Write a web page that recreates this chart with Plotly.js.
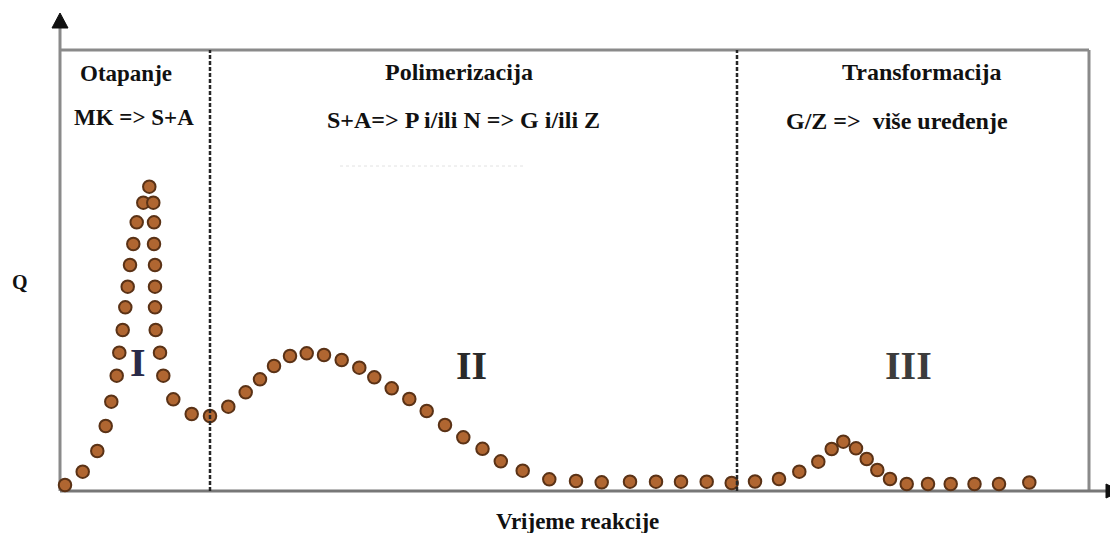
<!DOCTYPE html>
<html>
<head>
<meta charset="utf-8">
<script src="https://cdn.plot.ly/plotly-3.0.1.min.js"></script>
<style>
html,body{margin:0;padding:0;background:#fff;}
#chart{width:1110px;height:533px;}
</style>
</head>
<body>
<div id="chart"></div>
<script>
// Reaction time (arbitrary units) and heat flow Q (arbitrary units)
var timeStage1 = [5, 22.7, 37.3, 45.7, 51.3, 56.7, 59.3, 62.7, 65.3, 67.7, 70, 73.3, 76.7, 83.3, 89.3,
                  93.3, 94, 94, 95, 95, 95, 95.7, 100, 103.3, 113.3, 131.7, 150];
var qStage1    = [6, 19.3, 40, 65, 89.3, 115.3, 138.3, 161, 183.7, 204.3, 226, 247, 268.7, 288.3, 304.3,
                  288.3, 268.7, 247, 226, 204.3, 183.7, 161, 138.3, 115.3, 91.7, 77, 75];

var timeStage2 = [168.3, 185.7, 200, 214, 230, 246.7, 264, 281.7, 299.3, 314.3, 331.7, 349.3, 366.7,
                  385, 403.3, 422.5, 440.8, 462.7, 489.3, 516, 541.7, 570, 596, 621, 646.7, 671.7];
var qStage2    = [84.3, 98.7, 111.7, 125, 135, 137.7, 136, 131, 123.3, 113.7, 102.7, 92, 80,
                  66, 53.7, 42.2, 29.7, 20.3, 11.7, 10, 8.7, 9.3, 9.3, 9.3, 9.3, 8];

var timeStage3 = [695, 719, 739.3, 758.3, 771.7, 783.3, 796, 806.7, 817.3, 830, 846.7, 868, 890.7, 914.5, 939, 969.3];
var qStage3    = [9.5, 12, 19.3, 29.3, 42, 49.3, 42.7, 32, 21, 12, 7, 7, 7, 7, 7, 8.5];

var stageBounds = [150, 677];   // stage boundaries on the time axis
var timeRange = [0, 1029];
var qRange = [0, 441];

var stageNames = ['Otapanje', 'Polimerizacija', 'Transformacija'];
var stageReactions = ['MK => S+A', 'S+A=> P i/ili N => G i/ili Z', 'G/Z =>\u00a0\u00a0više uređenje'];
var stageNumerals = ['I', 'II', 'III'];
var xTitle = 'Vrijeme reakcije';
var yTitle = 'Q';

var timeAll = timeStage1.concat(timeStage2, timeStage3);
var qAll = qStage1.concat(qStage2, qStage3);

var serif = "'Liberation Serif', 'Times New Roman', serif";

var trace = {
  x: timeAll, y: qAll, type: 'scatter', mode: 'markers',
  marker: {size: 12.5, color: '#b06631', line: {color: '#5a3216', width: 2}},
  hoverinfo: 'skip', cliponaxis: false
};

var axisGray = '#8a8a8a';
var W = 1029, H = 441;
function px(p){ return (p - 60) / W; }
function py(p){ return (491 - p) / H; }

var shapes = [
  // frame
  {type:'line', xref:'paper', yref:'paper', x0:0, x1:1, y0:1, y1:1, line:{color:axisGray, width:3}, layer:'below'},
  {type:'line', xref:'paper', yref:'paper', x0:1, x1:1, y0:0, y1:1, line:{color:axisGray, width:3}, layer:'below'},
  // y axis with arrow
  {type:'line', xref:'paper', yref:'paper', x0:0, x1:0, y0:0, y1:py(27), line:{color:axisGray, width:3}, layer:'below'},
  {type:'path', xref:'paper', yref:'paper',
   path:'M '+px(52)+' '+py(28)+' L '+px(60)+' '+py(13)+' L '+px(68)+' '+py(28)+' Z',
   fillcolor:'#111', line:{color:'#111', width:1}},
  // x axis with arrow
  {type:'line', xref:'paper', yref:'paper', x0:0, x1:px(1106), y0:0, y1:0, line:{color:'#777', width:3}, layer:'below'},
  {type:'path', xref:'paper', yref:'paper',
   path:'M '+px(1106)+' '+py(484)+' L '+px(1121)+' '+py(491)+' L '+px(1106)+' '+py(498)+' Z',
   fillcolor:'#111', line:{color:'#111', width:1}},
  // faint line under middle label
  {type:'line', xref:'paper', yref:'paper', x0:px(340), x1:px(523), y0:py(166), y1:py(166),
   line:{color:'#e2e2e2', width:1, dash:'dot'}, layer:'below'}
];
stageBounds.forEach(function(b){
  shapes.push({type:'line', xref:'x', yref:'paper', x0:b, x1:b, y0:0, y1:1,
    line:{color:'#262626', width:2.5, dash:'4px,2px'}, layer:'above'});
});

function txt(x, y, s, size, color, xref, yref){
  return {x:x, y:y, xref:xref||'x', yref:yref||'y', text:s, showarrow:false,
    xanchor:'center', yanchor:'middle',
    font:{family:serif, size:size, color:color||'#111', weight:'bold'}};
}

var annotations = [
  txt(66, 418, stageNames[0], 23),
  txt(399, 419, stageNames[1], 24),
  txt(862, 419, stageNames[2], 24),
  txt(74, 374, stageReactions[0], 23),
  txt(403, 371, stageReactions[1], 24),
  txt(837, 370, stageReactions[2], 24),
  txt(78, 129, stageNumerals[0], 40, '#2a2a48'),
  txt(411, 126, stageNumerals[1], 40, '#2a2a2a'),
  txt(848, 126, stageNumerals[2], 40, '#3c3c3c'),
  txt(px(20), py(282), yTitle, 20, '#111', 'paper', 'paper'),
  txt(px(577), py(521), xTitle, 23, '#111', 'paper', 'paper')
];

var layout = {
  width: 1110, height: 533,
  margin: {l:60, r:21, t:50, b:42, pad:0},
  paper_bgcolor: '#fff', plot_bgcolor: '#fff',
  showlegend: false,
  xaxis: {range: timeRange, showgrid:false, zeroline:false, showticklabels:false, ticks:'', showline:false, fixedrange:true},
  yaxis: {range: qRange, showgrid:false, zeroline:false, showticklabels:false, ticks:'', showline:false, fixedrange:true},
  shapes: shapes,
  annotations: annotations
};

Plotly.newPlot('chart', [trace], layout, {displayModeBar:false, staticPlot:true});
</script>
</body>
</html>
